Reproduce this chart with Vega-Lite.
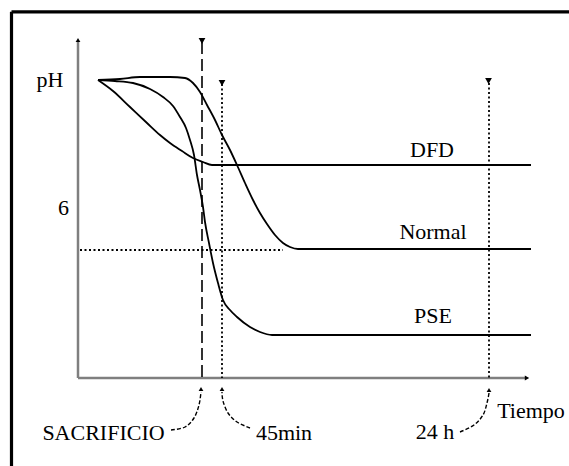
{
  "$schema": "https://vega.github.io/schema/vega-lite/v6.json",
  "width": 569,
  "height": 466,
  "padding": 0,
  "autosize": {"type": "none"},
  "background": "white",
  "config": {"view": {"stroke": null}},
  "datasets": {
    "curvas": [
      {"serie": "Normal", "t": 20, "v": 298}, {"serie": "Normal", "t": 42, "v": 299}, {"serie": "Normal", "t": 62, "v": 301},
      {"serie": "Normal", "t": 92, "v": 301}, {"serie": "Normal", "t": 107, "v": 300}, {"serie": "Normal", "t": 115, "v": 295},
      {"serie": "Normal", "t": 122, "v": 286}, {"serie": "Normal", "t": 129, "v": 273}, {"serie": "Normal", "t": 137, "v": 258},
      {"serie": "Normal", "t": 144, "v": 243}, {"serie": "Normal", "t": 152, "v": 228}, {"serie": "Normal", "t": 159, "v": 213},
      {"serie": "Normal", "t": 167, "v": 195}, {"serie": "Normal", "t": 175, "v": 178}, {"serie": "Normal", "t": 182, "v": 165},
      {"serie": "Normal", "t": 189, "v": 154}, {"serie": "Normal", "t": 197, "v": 143}, {"serie": "Normal", "t": 205, "v": 135},
      {"serie": "Normal", "t": 212, "v": 131}, {"serie": "Normal", "t": 220, "v": 129}, {"serie": "Normal", "t": 453, "v": 129},
      {"serie": "PSE", "t": 20, "v": 298}, {"serie": "PSE", "t": 37, "v": 297}, {"serie": "PSE", "t": 55, "v": 295},
      {"serie": "PSE", "t": 72, "v": 289}, {"serie": "PSE", "t": 85, "v": 281}, {"serie": "PSE", "t": 95, "v": 272},
      {"serie": "PSE", "t": 102, "v": 261}, {"serie": "PSE", "t": 108, "v": 250}, {"serie": "PSE", "t": 112, "v": 238},
      {"serie": "PSE", "t": 116, "v": 223}, {"serie": "PSE", "t": 119, "v": 203}, {"serie": "PSE", "t": 122, "v": 188},
      {"serie": "PSE", "t": 125, "v": 171}, {"serie": "PSE", "t": 127, "v": 156}, {"serie": "PSE", "t": 131, "v": 135},
      {"serie": "PSE", "t": 135, "v": 115}, {"serie": "PSE", "t": 140, "v": 95}, {"serie": "PSE", "t": 145, "v": 78},
      {"serie": "PSE", "t": 152, "v": 68}, {"serie": "PSE", "t": 159, "v": 61}, {"serie": "PSE", "t": 172, "v": 51},
      {"serie": "PSE", "t": 182, "v": 46}, {"serie": "PSE", "t": 194, "v": 43}, {"serie": "PSE", "t": 453, "v": 43},
      {"serie": "DFD", "t": 20, "v": 298}, {"serie": "DFD", "t": 35, "v": 287}, {"serie": "DFD", "t": 52, "v": 271},
      {"serie": "DFD", "t": 69, "v": 255}, {"serie": "DFD", "t": 82, "v": 243}, {"serie": "DFD", "t": 92, "v": 235},
      {"serie": "DFD", "t": 104, "v": 227}, {"serie": "DFD", "t": 115, "v": 220}, {"serie": "DFD", "t": 125, "v": 216},
      {"serie": "DFD", "t": 134, "v": 213}, {"serie": "DFD", "t": 453, "v": 213}
    ],
    "guias": [
      {"tipo": "borde", "t": -66.5, "v": 366.2, "t2": 495, "v2": 366.2},
      {"tipo": "borde", "t": -66.5, "v": 366.2, "t2": -66.5, "v2": -92},
      {"tipo": "eje", "t": 0, "v": 0, "t2": 0, "v2": 336},
      {"tipo": "eje", "t": 0, "v": 0, "t2": 447, "v2": 0},
      {"tipo": "rayas", "t": 124, "v": 336, "t2": 124, "v2": 0},
      {"tipo": "puntos", "t": 144, "v": 294, "t2": 144, "v2": 0},
      {"tipo": "puntos", "t": 411, "v": 295, "t2": 411, "v2": 0},
      {"tipo": "puntos", "t": 2, "v": 128, "t2": 205, "v2": 128}
    ],
    "marcas": [
      {"tipo": "tope", "t": 124, "v": 337},
      {"tipo": "tope", "t": 144, "v": 295},
      {"tipo": "tope", "t": 410.5, "v": 297},
      {"tipo": "arriba", "t": 0, "v": 338},
      {"tipo": "punta", "t": 123, "v": -11},
      {"tipo": "punta", "t": 144, "v": -11},
      {"tipo": "punta", "t": 411, "v": -12},
      {"tipo": "derecha", "t": 449, "v": 0}
    ],
    "flechas": [
      {"serie": "SACRIFICIO", "i": 0, "t": 93, "v": -52}, {"serie": "SACRIFICIO", "i": 1, "t": 107, "v": -49},
      {"serie": "SACRIFICIO", "i": 2, "t": 116, "v": -40}, {"serie": "SACRIFICIO", "i": 3, "t": 121, "v": -27},
      {"serie": "SACRIFICIO", "i": 4, "t": 123, "v": -14},
      {"serie": "45min", "i": 0, "t": 172, "v": -50}, {"serie": "45min", "i": 1, "t": 159, "v": -44},
      {"serie": "45min", "i": 2, "t": 150, "v": -35}, {"serie": "45min", "i": 3, "t": 145, "v": -23},
      {"serie": "45min", "i": 4, "t": 144, "v": -14},
      {"serie": "24 h", "i": 0, "t": 382, "v": -54}, {"serie": "24 h", "i": 1, "t": 396, "v": -47},
      {"serie": "24 h", "i": 2, "t": 405, "v": -37}, {"serie": "24 h", "i": 3, "t": 409, "v": -25},
      {"serie": "24 h", "i": 4, "t": 411, "v": -15}
    ],
    "textos": [
      {"label": "pH", "t": -28, "v": 291},
      {"label": "6", "t": -14.5, "v": 163},
      {"label": "DFD", "t": 354, "v": 221},
      {"label": "Normal", "t": 355, "v": 139},
      {"label": "PSE", "t": 355, "v": 55},
      {"label": "SACRIFICIO", "t": 25.5, "v": -62},
      {"label": "45min", "t": 206, "v": -62},
      {"label": "24 h", "t": 357, "v": -61},
      {"label": "Tiempo", "t": 453, "v": -40}
    ]
  },
  "encoding": {
    "x": {"field": "t", "type": "quantitative", "scale": {"domain": [-78, 491], "nice": false, "zero": false}, "axis": null},
    "y": {"field": "v", "type": "quantitative", "scale": {"domain": [-88, 378], "nice": false, "zero": false}, "axis": null}
  },
  "layer": [
    {
      "data": {"name": "guias"},
      "transform": [{"filter": "datum.tipo == 'borde'"}],
      "mark": {"type": "rule", "color": "black", "strokeWidth": 3.2},
      "encoding": {"x2": {"field": "t2"}, "y2": {"field": "v2"}}
    },
    {
      "data": {"name": "guias"},
      "transform": [{"filter": "datum.tipo == 'eje'"}],
      "mark": {"type": "rule", "color": "#7f7f7f", "strokeWidth": 2.5},
      "encoding": {"x2": {"field": "t2"}, "y2": {"field": "v2"}}
    },
    {
      "data": {"name": "guias"},
      "transform": [{"filter": "datum.tipo == 'rayas'"}],
      "mark": {"type": "rule", "color": "black", "strokeWidth": 1.6, "strokeDash": [12, 5]},
      "encoding": {"x2": {"field": "t2"}, "y2": {"field": "v2"}}
    },
    {
      "data": {"name": "guias"},
      "transform": [{"filter": "datum.tipo == 'puntos'"}],
      "mark": {"type": "rule", "color": "black", "strokeWidth": 1.8, "strokeDash": [2, 2.5]},
      "encoding": {"x2": {"field": "t2"}, "y2": {"field": "v2"}}
    },
    {
      "data": {"name": "curvas"},
      "mark": {"type": "line", "color": "black", "strokeWidth": 1.8, "interpolate": "monotone"},
      "encoding": {"detail": {"field": "serie", "type": "nominal"}}
    },
    {
      "data": {"name": "flechas"},
      "mark": {"type": "line", "color": "black", "strokeWidth": 1.4, "strokeDash": [4, 2], "interpolate": "cardinal"},
      "encoding": {"detail": {"field": "serie", "type": "nominal"}, "order": {"field": "i", "type": "quantitative"}}
    },
    {
      "data": {"name": "marcas"},
      "transform": [{"filter": "datum.tipo == 'tope'"}],
      "mark": {"type": "point", "shape": "triangle-down", "filled": true, "color": "black", "size": 45, "opacity": 1}
    },
    {
      "data": {"name": "marcas"},
      "transform": [{"filter": "datum.tipo == 'arriba' || datum.tipo == 'punta'"}],
      "mark": {"type": "point", "shape": "triangle-up", "filled": true, "color": "black", "size": 22, "opacity": 1}
    },
    {
      "data": {"name": "marcas"},
      "transform": [{"filter": "datum.tipo == 'derecha'"}],
      "mark": {"type": "point", "shape": "triangle-right", "filled": true, "color": "black", "size": 26, "opacity": 1}
    },
    {
      "data": {"name": "textos"},
      "mark": {"type": "text", "font": "Liberation Serif, Times New Roman, serif", "fontSize": 22, "color": "black", "align": "center", "baseline": "alphabetic"},
      "encoding": {"text": {"field": "label", "type": "nominal"}}
    }
  ]
}
